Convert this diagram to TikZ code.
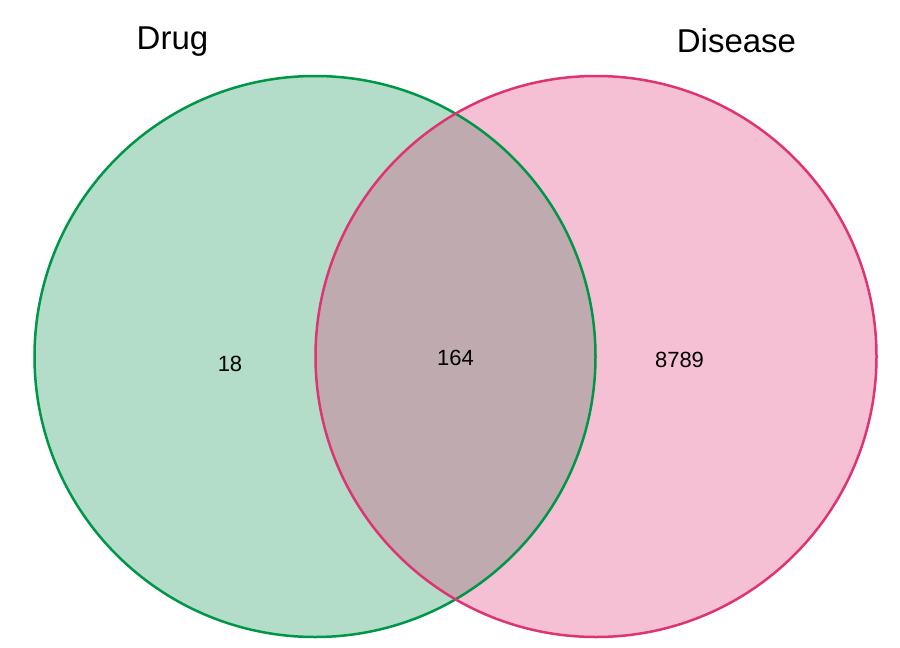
\documentclass[tikz,border=0pt]{standalone}
\usepackage{fontspec}
\setmainfont{Liberation Sans}
\definecolor{gfill}{RGB}{179,221,200}
\definecolor{gline}{RGB}{0,150,72}
\definecolor{pfill}{RGB}{245,192,212}
\definecolor{pline}{RGB}{222,52,116}
\definecolor{ifill}{RGB}{191,170,175}
\begin{document}
\begin{tikzpicture}[x=1pt,y=-1pt,
  title/.style={anchor=base,font=\fontsize{33}{36}\selectfont},
  count/.style={anchor=base,font=\fontsize{22}{24}\selectfont},
  ring/.style={line width=2.5pt}]
\useasboundingbox (0,0) rectangle (900,648);
\fill[white] (0,0) rectangle (900,648);
\coordinate (cl) at (315,356.5);
\coordinate (cr) at (596,356.5);
\fill[gfill] (cl) circle[radius=280.5];
\fill[pfill] (cr) circle[radius=280.5];
\begin{scope}
  \clip (cl) circle[radius=280.5];
  \fill[ifill] (cr) circle[radius=280.5];
\end{scope}
\draw[ring,gline] (cl) circle[radius=280.5];
\draw[ring,pline] (cr) circle[radius=280.5];
\node[title] (drug) at (172.5,49.5) {Drug};
\node[title] (dis) at (736.5,52) {Disease};
\node[count] (a) at (230,371.5) {18};
\node[count] (b) at (455.5,365.5) {164};
\node[count] (c) at (679.5,367.5) {8789};
\end{tikzpicture}
\end{document}
